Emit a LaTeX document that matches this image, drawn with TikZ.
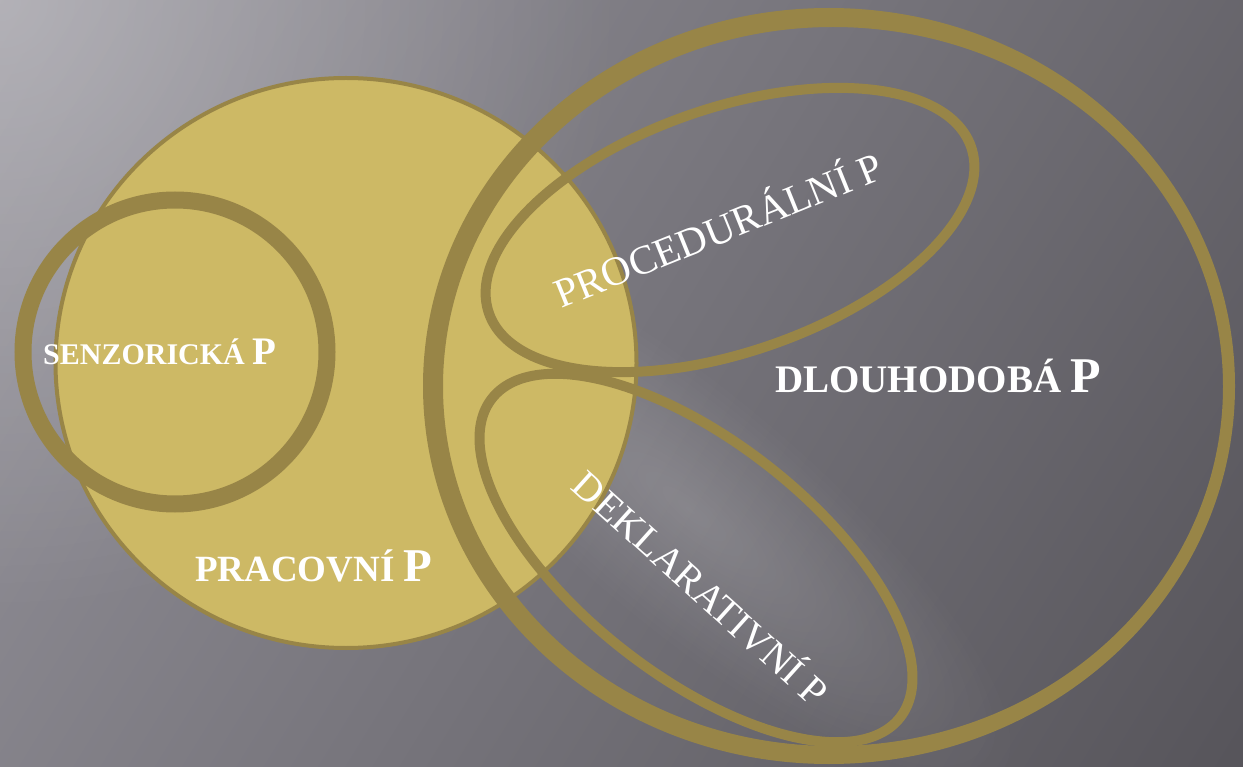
\documentclass[tikz,border=0pt]{standalone}
\usepackage{fontspec}
\newfontfamily\labfont{Liberation Serif}
\usetikzlibrary{fadings}
\definecolor{goldfill}{RGB}{205,185,101}
\definecolor{goldring}{RGB}{152,133,71}
\definecolor{bgtl}{RGB}{150,148,156}
\definecolor{bgmid}{RGB}{108,106,113}
\definecolor{bgbr}{RGB}{86,84,90}
\tikzfading[name=softfade, inner color=transparent!0, outer color=transparent!100]
\begin{document}
\begin{tikzpicture}[x=1pt,y=-1pt,
  ring/.style={draw=goldring},
  lbl/.style={text=white, inner sep=0pt, font=\labfont},
  boldlbl/.style={lbl, font=\labfont\bfseries}]
\useasboundingbox (0,0) rectangle (1243,767);
% background
\begin{scope}
  \clip (0,0) rectangle (1243,767);
  \begin{scope}[transform canvas={rotate around={-31.7:(621.5,383.5)}}]
    \shade[left color=bgtl, middle color=bgmid, right color=bgbr] (-118.5,-356.5) rectangle (1361.5,1123.5);
  \end{scope}
  \fill[white, fill opacity=0.28, path fading=softfade] (0,0) circle (620);
  \begin{scope}[transform canvas={rotate around={-40:(690,510)}}]
    \fill[white, fill opacity=0.16, path fading=softfade] (690,510) ellipse [x radius=420, y radius=120];
  \end{scope}
\end{scope}
% pracovni pamet
\draw[ring, fill=goldfill, line width=4] (346,363) ellipse [x radius=290.5, y radius=285];
% senzoricka
\draw[ring, line width=17] (175,352) circle [radius=152];
% dlouhodoba (ring of varying width)
\fill[goldring, even odd rule] (829,386) ellipse [x radius=406, y radius=378]
  (833,386.5) ellipse [x radius=390, y radius=359.5];
% proceduralni
\draw[ring, line width=10, rotate around={19:(730,230)}] (730,230) ellipse [x radius=255, y radius=122];
% deklarativni
\draw[ring, line width=10, rotate around={-38:(696,558)}] (696,558) ellipse [x radius=259, y radius=117];
% labels
\node[boldlbl, anchor=base west] (senz) at (43,365)
  {\fontsize{30}{30}\selectfont SENZORICKÁ \fontsize{39}{39}\selectfont P};
\node[boldlbl, anchor=base west] (prac) at (195,581)
  {\fontsize{37}{37}\selectfont PRACOVNÍ \fontsize{47}{47}\selectfont P};
\node[boldlbl, anchor=base west] (dlouh) at (775,392)
  {\fontsize{39}{39}\selectfont DLOUHODOBÁ \fontsize{50}{50}\selectfont P};
\node[lbl, rotate=22] (proc) at (717,227) {\fontsize{41}{41}\selectfont PROCEDURÁLNÍ P};
\node[lbl, rotate=-42] (dekl) at (703,586) {\fontsize{40}{40}\selectfont DEKLARATIVNÍ P};
\end{tikzpicture}
\end{document}
